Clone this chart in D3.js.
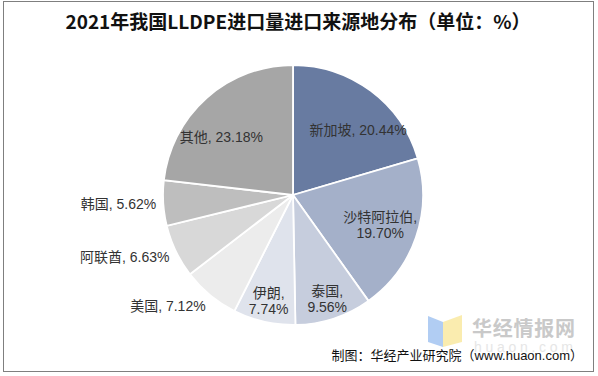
<!DOCTYPE html>
<html><head><meta charset="utf-8">
<script src="https://cdn.jsdelivr.net/npm/d3@7"></script>
<style>body{margin:0;background:#fff;}svg{display:block;}</style>
</head><body>
<svg id="c" width="598" height="376"></svg>
<script>
const categories = ["新加坡","沙特阿拉伯","泰国","伊朗","美国","阿联酋","韩国","其他"];
const values = [20.44,19.70,9.56,7.74,7.12,6.63,5.62,23.18];
const colors = ["#687ba1","#a4b0c9","#c6cddd","#dfe3ec","#ececec","#d8d8d8","#bebebe","#a6a6a6"];
const outsideLabels = ["美国","阿联酋","韩国"];
const titleText = "2021年我国LLDPE进口量进口来源地分布（单位：%）";
const sourceText = "制图：华经产业研究院（www.huaon.com）";

const svg = d3.select("#c");
svg.append("rect").attr("x",3.5).attr("y",1.5).attr("width",590).attr("height",370)
  .attr("fill","#fff").attr("stroke","#7f7f7f").attr("stroke-width",1);

svg.append("text").attr("x",298).attr("y",29).attr("text-anchor","middle")
  .attr("font-family","'Noto Sans CJK SC'").attr("font-weight","bold").attr("font-size",19)
  .attr("fill","#111").text(titleText);

const cx = 293, cy = 195, R = 130;
const g = svg.append("g").attr("transform",`translate(${cx},${cy})`);
const pie = d3.pie().sort(null).value(d=>d.v);
const data = categories.map((c,i)=>({c, v:values[i], color:colors[i]}));
const arcs = pie(data);
const arc = d3.arc().innerRadius(0).outerRadius(R);
g.selectAll("path").data(arcs).enter().append("path")
  .attr("d",arc).attr("fill",d=>d.data.color).attr("stroke","#fff").attr("stroke-width",1.8);

const fs = 14;
arcs.forEach(a=>{
  const mid = (a.startAngle+a.endAngle)/2;
  const s = Math.sin(mid), c = Math.cos(mid);
  const label = a.data.c + ", " + a.data.v.toFixed(2) + "%";
  const outside = outsideLabels.includes(a.data.c);
  const t = g.append("text").attr("font-family","Arial, 'Liberation Sans', 'Noto Sans CJK SC'")
    .attr("font-size",fs).attr("fill","#333");
  if (outside) {
    const r = R + 7;
    const px = r*s, py = -r*c;
    const yc = py - 0.5*c*fs*1.05;
    t.attr("text-anchor", s < 0 ? "end" : "start").attr("x", px).attr("y", yc + fs*0.36).text(label);
  } else {
    const wrap = a.data.v < 20;
    t.attr("text-anchor","middle");
    if (wrap) {
      const r = a.data.v > 15 ? R*0.71 : R*0.84;
      const px = r*s, py = -r*c;
      t.append("tspan").attr("x",px).attr("y",py - 8 + fs*0.36).text(a.data.c + ",");
      t.append("tspan").attr("x",px).attr("y",py + 8 + fs*0.36).text(a.data.v.toFixed(2) + "%");
    } else {
      // wide single-line labels sit a little further toward the horizontal
      let ang = mid > Math.PI ? mid - 2*Math.PI : mid;
      ang = ang * 1.22;
      const r = R*0.71;
      t.attr("x", r*Math.sin(ang)).attr("y", -r*Math.cos(ang) + fs*0.36).text(label);
    }
  }
});

// watermark
const wm = svg.append("g");
wm.append("polygon").attr("points","428,316 443,322 443,347 428,342").attr("fill","#a9c8f2").attr("opacity",0.9);
wm.append("polygon").attr("points","443,322 462,315 462,342 443,347").attr("fill","#f9eaa6").attr("opacity",0.9);
wm.append("text").attr("x",472).attr("y",336).attr("font-family","'Noto Sans CJK SC'").attr("font-weight","bold")
  .attr("font-size",20).attr("fill","#c9c9c9").attr("textLength",103).text("华经情报网");
wm.append("text").attr("x",474).attr("y",352).attr("font-family","Arial, 'Liberation Sans'")
  .attr("font-size",14).attr("fill","#e6e6e6").attr("textLength",99).attr("lengthAdjust","spacing").text("huaon.com");

svg.append("text").attr("x",583).attr("y",360).attr("text-anchor","end")
  .attr("font-family","Arial, 'Liberation Sans', 'Noto Sans CJK SC'").attr("font-size",13)
  .attr("fill","#111").text(sourceText);
</script>
</body></html>
